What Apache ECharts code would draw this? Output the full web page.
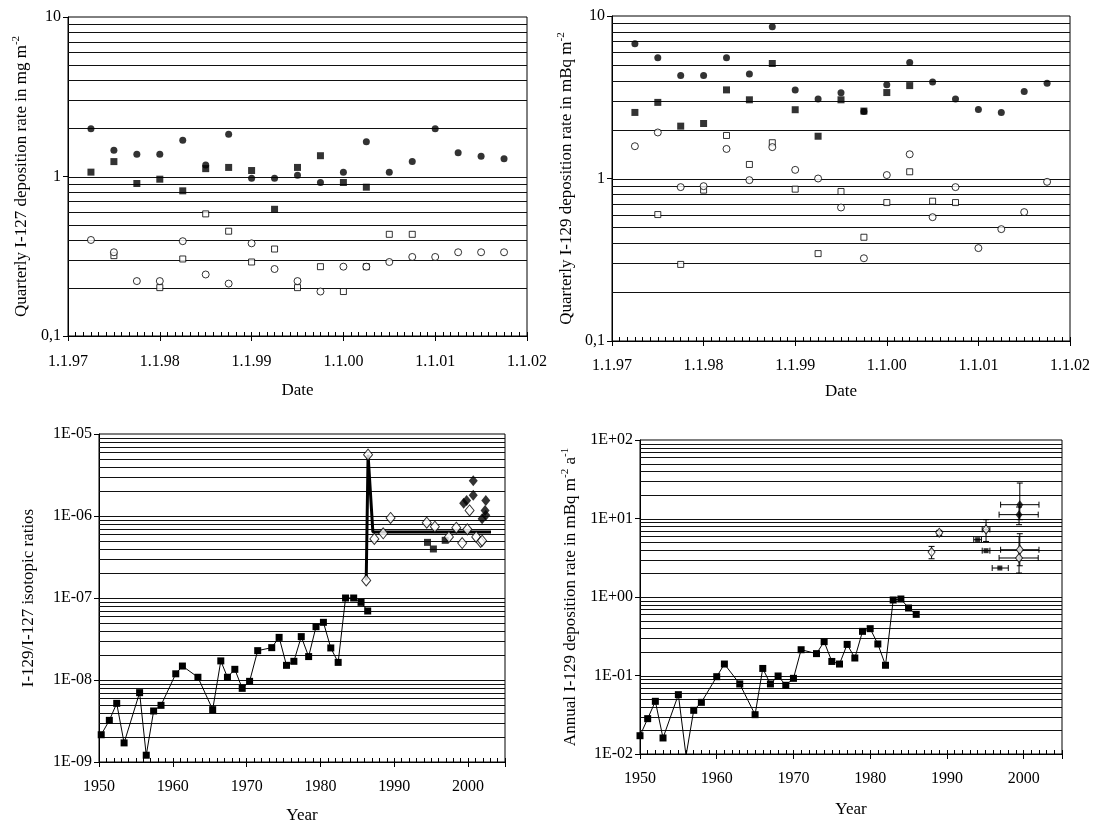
<!DOCTYPE html>
<html><head><meta charset="utf-8">
<script src="https://cdn.jsdelivr.net/npm/echarts@6/dist/echarts.min.js"></script>
<style>html,body{margin:0;padding:0;background:#fff}#c{width:1093px;height:825px}</style>
</head><body><div id="c"></div>
<script>
// ---------- data ----------
const quarterDates = [1997.25,1997.5,1997.75,1998,1998.25,1998.5,1998.75,1999,1999.25,1999.5,1999.75,2000,2000.25,2000.5,2000.75,2001,2001.25,2001.5,2001.75];
const dateTickYears = [1997,1998,1999,2000,2001,2002];
const dateTickLabels = ['1.1.97','1.1.98','1.1.99','1.1.00','1.1.01','1.1.02'];

// I-127 quarterly deposition (mg m-2)
const i127FilledCircle = [1.99,1.46,1.38,1.38,1.69,1.18,1.84,0.976,0.976,1.02,0.917,1.065,1.65,1.065,1.24,1.99,1.41,1.34,1.29];
const i127FilledSquare = [1.065,1.24,0.904,0.962,0.813,1.12,1.14,1.09,0.623,1.14,1.35,0.917,0.857,null,null,null,null,null,null];
const i127OpenCircle   = [0.40,0.335,0.221,0.221,0.393,0.243,0.213,0.381,0.263,0.221,0.19,0.272,0.272,0.291,0.313,0.313,0.335,0.335,0.335];
const i127OpenSquare   = [null,0.319,null,0.201,0.304,0.583,0.454,0.291,0.351,0.201,0.272,0.19,0.272,0.434,0.434,null,null,null,null];

// I-129 quarterly deposition (mBq m-2)
const i129FilledCircle = [6.74,5.53,4.30,4.30,5.53,4.39,8.58,3.51,3.09,3.37,2.58,3.77,5.17,3.92,3.09,2.66,2.55,3.43,3.86];
const i129FilledSquare = [2.55,2.94,2.10,2.18,3.51,3.05,5.10,2.65,1.82,3.05,2.60,3.38,3.73,null,null,null,null,null,null];
const i129OpenCircle   = [1.58,1.92,0.885,0.897,1.52,0.977,1.56,1.13,1.0,0.663,0.323,1.05,1.41,0.578,0.885,0.373,0.488,0.621,0.954];
const i129OpenSquare   = [null,0.60,0.296,0.848,1.84,1.22,1.66,0.86,0.345,0.832,0.435,0.711,1.10,0.725,0.711,null,null,null,null];
const depositionTickExp = [-1,0,1];
const depositionTickLabels = ['0,1','1','10'];

// I-129/I-127 isotopic ratios
const ratioYears  = [1950.3,1951.4,1952.4,1953.4,1955.5,1956.4,1957.4,1958.4,1960.4,1961.3,1963.4,1965.4,1966.5,1967.4,1968.4,1969.4,1970.4,1971.5,1973.4,1974.4,1975.4,1976.4,1977.4,1978.4,1979.4,1980.4,1981.4,1982.4,1983.4,1984.5,1985.5,1986.4];
const ratioValues = [2.15e-9,3.22e-9,5.19e-9,1.71e-9,7.01e-9,1.21e-9,4.19e-9,4.91e-9,1.19e-8,1.48e-8,1.08e-8,4.35e-9,1.71e-8,1.08e-8,1.35e-8,7.91e-9,9.63e-9,2.28e-8,2.48e-8,3.31e-8,1.51e-8,1.69e-8,3.38e-8,1.93e-8,4.47e-8,5.05e-8,2.46e-8,1.64e-8,1.0e-7,1.0e-7,8.85e-8,6.94e-8];
const ratioMeanYears  = [1986.2,1986.45,1987.1,2003.1];
const ratioMeanValues = [1.64e-7,5.6e-6,6.4e-7,6.4e-7];
const ratioOpenDiamondYears  = [1986.45,1986.2,1987.3,1988.5,1989.5,1994.4,1995.5,1997.4,1998.4,1999.2,1999.9,2000.2,2001.1,2001.7,2001.9];
const ratioOpenDiamondValues = [5.6e-6,1.64e-7,5.25e-7,6.15e-7,9.46e-7,8.3e-7,7.41e-7,5.55e-7,7.2e-7,4.68e-7,6.87e-7,1.17e-6,5.55e-7,4.82e-7,5.0e-7];
const ratioFilledDiamondYears  = [2000.7,2000.7,1999.8,1999.4,2002.4,2002.3,2002.4,2001.9];
const ratioFilledDiamondValues = [2.7e-6,1.79e-6,1.55e-6,1.43e-6,1.54e-6,1.17e-6,1.02e-6,9.27e-7];
const ratioFilledSquareYears  = [1994.5,1995.3,1996.9];
const ratioFilledSquareValues = [4.77e-7,3.96e-7,5.05e-7];
const ratioTickExp = [-9,-8,-7,-6,-5];
const ratioTickLabels = ['1E-09','1E-08','1E-07','1E-06','1E-05'];

// Annual I-129 deposition (mBq m-2 a-1)
const annualYears  = [1950,1951,1952,1953,1955,1956,1957,1958,1960,1961,1963,1965,1966,1967,1968,1969,1970,1971,1973,1974,1975,1976,1977,1978,1979,1980,1981,1982,1983,1984,1985,1986];
const annualValues = [0.0171,0.0282,0.0469,0.016,0.057,0.0095,0.036,0.0455,0.0966,0.140,0.078,0.0317,0.123,0.078,0.0986,0.075,0.092,0.213,0.19,0.27,0.151,0.14,0.249,0.167,0.365,0.395,0.252,0.135,0.916,0.943,0.724,0.601];
const annualOpenDiamondYears = [1988.0,1989.0,1995.1,1999.5,1999.4];
const annualOpenDiamondValues = [3.74,6.59,7.26,4.0,3.14];
const annualOpenDiamondXLow  = [1988.0,1989.0,1994.6,1997.0,1996.8];
const annualOpenDiamondXHigh = [1988.0,1989.0,1995.6,2002.0,2001.9];
const annualOpenDiamondYLow  = [3.07,6.1,5.1,2.5,2.02];
const annualOpenDiamondYHigh = [4.41,7.06,9.66,6.4,5.9];
const annualFilledDiamondYears = [1999.5,1999.4];
const annualFilledDiamondValues = [15.0,11.2];
const annualFilledDiamondXLow  = [1997.0,1996.8];
const annualFilledDiamondXHigh = [2002.0,2001.9];
const annualFilledDiamondYLow  = [9.66,8.34];
const annualFilledDiamondYHigh = [28.3,14.0];
const annualFilledSquareYears = [1994.0,1995.1,1996.9];
const annualFilledSquareValues = [5.37,3.89,2.34];
const annualFilledSquareXLow  = [1993.5,1994.6,1995.9];
const annualFilledSquareXHigh = [1994.5,1995.6,1998.0];
const annualTickExp = [-2,-1,0,1,2];
const annualTickLabels = ['1E-02','1E-01','1E+00','1E+01','1E+02'];

// ---------- helpers ----------
const FONT = 'Liberation Serif';
const BLACK = '#000';
function pairs(xs, ys) { const out = []; xs.forEach((x, i) => { if (ys[i] != null) out.push([x, ys[i]]); }); return out; }
function gridValues(e0, e1) { const v = []; for (let e = e0; e < e1; e++) for (let k = 1; k <= 9; k++) { if (e === e0 && k === 1) continue; v.push(k * Math.pow(10, e)); } return v; }
function logLabel(exps, labels) { return function (v) { const e = Math.round(Math.log10(v)); const i = exps.indexOf(e); return i >= 0 ? labels[i] : ''; }; }
function gridlineSeries(xi, yi, xmin, values) {
  return { type: 'custom', xAxisIndex: xi, yAxisIndex: yi, silent: true, animation: false, z: 1,
    data: values.map(v => [xmin, v]), encode: { x: 0, y: 1 },
    renderItem: function (params, api) {
      const p = api.coord([api.value(0), api.value(1)]);
      const cs = params.coordSys;
      const y = Math.round(p[1]) + 0.5;
      return { type: 'line', shape: { x1: cs.x, y1: y, x2: cs.x + cs.width, y2: y }, style: { stroke: '#111', lineWidth: 1 } };
    } };
}
const filledStyle = { color: BLACK };
const openStyle = { color: '#fff', borderColor: BLACK, borderWidth: 1 };
function scatter(x, y, data, symbol, size, style, extra) {
  return Object.assign({ type: 'scatter', xAxisIndex: x, yAxisIndex: y, data: data, symbol: symbol, symbolSize: size,
    itemStyle: style, z: 3, silent: true, animation: false }, extra || {});
}
function errorBarRender(params, api) {
  const x = api.value(0), y = api.value(1), xl = api.value(2), xh = api.value(3), yl = api.value(4), yh = api.value(5);
  const st = { stroke: BLACK, lineWidth: 1, fill: null };
  const ch = [];
  if (yh > yl) {
    const a = api.coord([x, yl]), b = api.coord([x, yh]);
    ch.push({ type: 'line', shape: { x1: a[0], y1: a[1], x2: b[0], y2: b[1] }, style: st });
    ch.push({ type: 'line', shape: { x1: a[0] - 3, y1: a[1], x2: a[0] + 3, y2: a[1] }, style: st });
    ch.push({ type: 'line', shape: { x1: b[0] - 3, y1: b[1], x2: b[0] + 3, y2: b[1] }, style: st });
  }
  if (xh > xl) {
    const a = api.coord([xl, y]), b = api.coord([xh, y]);
    ch.push({ type: 'line', shape: { x1: a[0], y1: a[1], x2: b[0], y2: b[1] }, style: st });
    ch.push({ type: 'line', shape: { x1: a[0], y1: a[1] - 3, x2: a[0], y2: a[1] + 3 }, style: st });
    ch.push({ type: 'line', shape: { x1: b[0], y1: b[1] - 3, x2: b[0], y2: b[1] + 3 }, style: st });
  }
  return { type: 'group', children: ch };
}
function errRows(xs, ys, xl, xh, yl, yh) { return xs.map((x, i) => [x, ys[i], xl ? xl[i] : x, xh ? xh[i] : x, yl ? yl[i] : ys[i], yh ? yh[i] : ys[i]]); }

const tickTxt = { fontFamily: FONT, color: BLACK, fontSize: 16 };
const nameTxt = { fontFamily: FONT, color: BLACK, fontSize: 17 };
const richSup = { sup: { fontFamily: FONT, color: BLACK, fontSize: 11, lineHeight: 11, verticalAlign: 'top' } };

function mainX(g, min, max, interval, fmt, nameGap, labelMargin) {
  return { type: 'value', gridIndex: g, position: 'bottom', min: min, max: max, interval: interval,
    name: g < 2 ? 'Date' : 'Year', nameLocation: 'middle', nameGap: nameGap, nameTextStyle: nameTxt,
    axisLine: { show: true, lineStyle: { color: BLACK, width: 1 } },
    axisTick: { show: true, inside: false, length: 5, lineStyle: { color: BLACK } },
    axisLabel: Object.assign({ formatter: fmt, margin: labelMargin, showMinLabel: true, showMaxLabel: true }, tickTxt),
    splitLine: { show: false } };
}
function minorX(g, min, max, interval) {
  return { type: 'value', gridIndex: g, position: 'bottom', min: min, max: max, interval: interval,
    axisLine: { show: false }, axisTick: { show: true, inside: true, length: 4, lineStyle: { color: BLACK } },
    axisLabel: { show: false }, splitLine: { show: false } };
}
function logY(g, min, max, fmt, name, nameGap) {
  return { type: 'log', logBase: 10, gridIndex: g, min: min, max: max, interval: 1,
    name: name, nameLocation: 'middle', nameGap: nameGap, nameRotate: 90,
    nameTextStyle: Object.assign({ rich: richSup, lineHeight: 22 }, nameTxt),
    axisLine: { show: true, lineStyle: { color: BLACK, width: 1 } },
    axisTick: { show: true, inside: false, length: 5, lineStyle: { color: BLACK } },
    axisLabel: Object.assign({ formatter: fmt, margin: 7, showMinLabel: true, showMaxLabel: true }, tickTxt),
    splitLine: { show: false }, minorTick: { show: false }, minorSplitLine: { show: false } };
}
const dateFmt = v => { const i = dateTickYears.findIndex(y => Math.abs(y - v) < 1e-6); return i >= 0 ? dateTickLabels[i] : ''; };
const yearFmt = v => (Math.abs(v % 10) < 1e-6 ? String(Math.round(v)) : '');
const gridBox = { show: true, borderColor: BLACK, borderWidth: 1, backgroundColor: 'transparent', containLabel: false };

const option = {
  animation: false,
  backgroundColor: '#fff',
  grid: [
    Object.assign({ left: 68, top: 17, width: 459, height: 319 }, gridBox),
    Object.assign({ left: 612, top: 16, width: 461, height: 325 }, gridBox),
    Object.assign({ left: 99, top: 434, width: 406, height: 328 }, gridBox),
    Object.assign({ left: 640, top: 440, width: 422, height: 314 }, gridBox)
  ],
  xAxis: [
    mainX(0, 1997, 2002, 1, dateFmt, 46, 18), minorX(0, 1997, 2002, 1 / 12),
    mainX(1, 1997, 2002, 1, dateFmt, 42, 17), minorX(1, 1997, 2002, 1 / 12),
    mainX(2, 1950, 2005, 10, yearFmt, 45, 17), minorX(2, 1950, 2005, 1),
    mainX(3, 1950, 2005, 10, yearFmt, 47, 17), minorX(3, 1950, 2005, 1)
  ],
  yAxis: [
    logY(0, 0.1, 10, logLabel(depositionTickExp, depositionTickLabels), 'Quarterly I-127 deposition rate in mg m{sup|-2}', 35),
    logY(1, 0.1, 10, logLabel(depositionTickExp, depositionTickLabels), 'Quarterly I-129 deposition rate in mBq m{sup|-2}', 34),
    logY(2, 1e-9, 1e-5, logLabel(ratioTickExp, ratioTickLabels), 'I-129/I-127 isotopic ratios', 59),
    logY(3, 0.01, 100, logLabel(annualTickExp, annualTickLabels), 'Annual I-129 deposition rate in mBq m{sup|-2} a{sup|-1}', 58)
  ],
  series: [
    gridlineSeries(0, 0, 1997, gridValues(-1, 1)),
    gridlineSeries(2, 1, 1997, gridValues(-1, 1)),
    gridlineSeries(4, 2, 1950, gridValues(-9, -5)),
    gridlineSeries(6, 3, 1950, gridValues(-2, 2)),
    // panel 1
    scatter(0, 0, pairs(quarterDates, i127OpenSquare), 'rect', 6, openStyle),
    scatter(0, 0, pairs(quarterDates, i127OpenCircle), 'circle', 7, openStyle),
    scatter(0, 0, pairs(quarterDates, i127FilledSquare), 'rect', 7, filledStyle),
    scatter(0, 0, pairs(quarterDates, i127FilledCircle), 'circle', 7, filledStyle),
    // panel 2
    scatter(2, 1, pairs(quarterDates, i129OpenSquare), 'rect', 6, openStyle),
    scatter(2, 1, pairs(quarterDates, i129OpenCircle), 'circle', 7, openStyle),
    scatter(2, 1, pairs(quarterDates, i129FilledSquare), 'rect', 7, filledStyle),
    scatter(2, 1, pairs(quarterDates, i129FilledCircle), 'circle', 7, filledStyle),
    // panel 3
    { type: 'line', xAxisIndex: 4, yAxisIndex: 2, data: pairs(ratioYears, ratioValues), symbol: 'rect', symbolSize: 7,
      showAllSymbol: true, itemStyle: filledStyle, lineStyle: { color: BLACK, width: 1 }, z: 3, silent: true, animation: false },
    { type: 'line', xAxisIndex: 4, yAxisIndex: 2, data: pairs(ratioMeanYears, ratioMeanValues), symbol: 'none',
      lineStyle: { color: BLACK, width: 3 }, z: 3, silent: true, animation: false },
    scatter(4, 2, pairs(ratioFilledSquareYears, ratioFilledSquareValues), 'rect', 7, filledStyle),
    scatter(4, 2, pairs(ratioOpenDiamondYears, ratioOpenDiamondValues), 'diamond', [9, 11], openStyle, { z: 4 }),
    scatter(4, 2, pairs(ratioFilledDiamondYears, ratioFilledDiamondValues), 'diamond', [9, 11], filledStyle, { z: 4 }),
    // panel 4
    { type: 'line', xAxisIndex: 6, yAxisIndex: 3, data: pairs(annualYears, annualValues), symbol: 'rect', symbolSize: 7,
      showAllSymbol: true, itemStyle: filledStyle, lineStyle: { color: BLACK, width: 1 }, z: 3, silent: true, animation: false },
    { type: 'custom', xAxisIndex: 6, yAxisIndex: 3, renderItem: errorBarRender, encode: { x: 0, y: 1 }, z: 3, silent: true, animation: false,
      data: errRows(annualOpenDiamondYears, annualOpenDiamondValues, annualOpenDiamondXLow, annualOpenDiamondXHigh, annualOpenDiamondYLow, annualOpenDiamondYHigh)
        .concat(errRows(annualFilledDiamondYears, annualFilledDiamondValues, annualFilledDiamondXLow, annualFilledDiamondXHigh, annualFilledDiamondYLow, annualFilledDiamondYHigh))
        .concat(errRows(annualFilledSquareYears, annualFilledSquareValues, annualFilledSquareXLow, annualFilledSquareXHigh, null, null)) },
    scatter(6, 3, pairs(annualFilledSquareYears, annualFilledSquareValues), 'rect', 5, filledStyle, { z: 4 }),
    scatter(6, 3, pairs(annualOpenDiamondYears, annualOpenDiamondValues), 'diamond', [7, 9], openStyle, { z: 4 }),
    scatter(6, 3, pairs(annualFilledDiamondYears, annualFilledDiamondValues), 'diamond', [7, 9], filledStyle, { z: 4 })
  ]
};
const chart = echarts.init(document.getElementById('c'), null, { renderer: 'canvas' });
chart.setOption(option);
</script>
</body></html>
